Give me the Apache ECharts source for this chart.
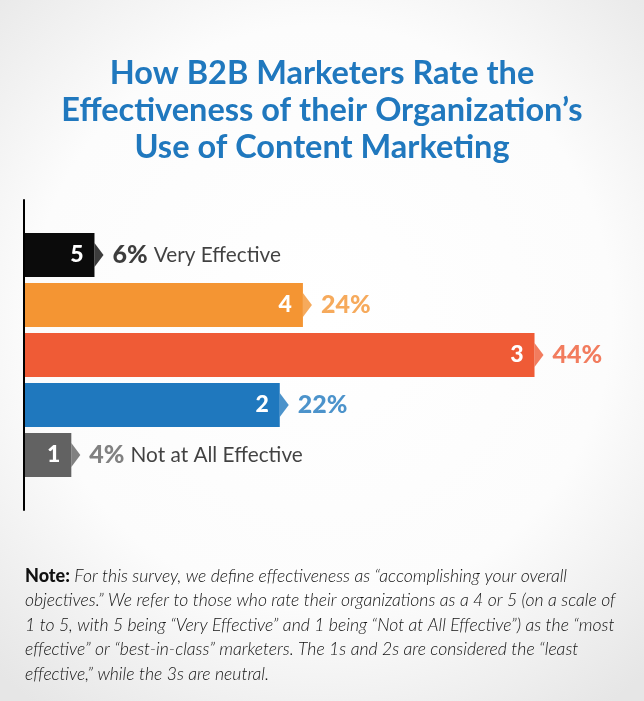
<!DOCTYPE html>
<html><head><meta charset="utf-8">
<script src="https://cdn.jsdelivr.net/npm/echarts@6/dist/echarts.min.js"></script>
<style>html,body{margin:0;padding:0;background:#fff;}#c{width:644px;height:701px;}</style>
</head><body><div id="c"></div>
<script>
// ---- data ----
const categories = ['5', '4', '3', '2', '1'];
const values = [6, 24, 44, 22, 4];
const descriptions = ['Very Effective', '', '', '', 'Not at All Effective'];
const titleLines = ['How B2B Marketers Rate the', 'Effectiveness of their Organization\u2019s', 'Use of Content Marketing'];
const noteLead = 'Note:';
const noteLines = [
  ' For this survey, we define effectiveness as \u201caccomplishing your overall',
  'objectives.\u201d We refer to those who rate their organizations as a 4 or 5 (on a scale of',
  '1 to 5, with 5 being \u201cVery Effective\u201d and 1 being \u201cNot at All Effective\u201d) as the \u201cmost',
  'effective\u201d or \u201cbest-in-class\u201d marketers. The 1s and 2s are considered the \u201cleast',
  'effective,\u201d while the 3s are neutral.'
];
// ---- styles ----
const barColors = ['#0b0b0b', '#F49533', '#EF5B36', '#1F78BE', '#626262'];
const pctColors = ['#0b0b0b', '#F49533', '#EF5B36', '#1F78BE', '#626262'];
const titleColor = '#2078BE';

const pctRich = {};
pctColors.forEach((c, i) => { pctRich['p' + i] = { color: c, fontSize: 25, fontWeight: 900, fontFamily: 'Lato' }; });
pctRich.d = { color: '#111', fontSize: 20.8, fontFamily: 'Lato', fontWeight: 'normal', padding: [0, 0, 0, 6] };

const noteText = '{b|' + noteLead + '}{i|' + noteLines[0] + '}\n' +
  noteLines.slice(1).map(l => '{i|' + l + '}').join('\n');

const chart = echarts.init(document.getElementById('c'), null, { renderer: 'canvas' });
chart.setOption({
  animation: false,
  backgroundColor: {
    type: 'radial', x: 0.5, y: 0.45, r: 0.75,
    colorStops: [{ offset: 0, color: '#ffffff' }, { offset: 0.6, color: '#fcfcfc' }, { offset: 1, color: '#e6e6e6' }]
  },
  title: [{
    text: titleLines.join('\n'),
    left: 'center', top: 50,
    textStyle: { color: titleColor, fontSize: 32.5, fontWeight: 'bold', fontFamily: 'Lato', lineHeight: 37 }
  }, {
    text: noteText,
    left: 20, top: 559,
    textStyle: {
      rich: {
        b: { fontFamily: 'Lato', fontWeight: 900, fontSize: 18, color: '#111', lineHeight: 24.5 },
        i: { fontFamily: 'Lato', fontStyle: 'italic', fontWeight: 300, fontSize: 17.6, color: '#111', lineHeight: 24.5 }
      }
    }
  }],
  grid: [
    { left: 25, right: 40, top: 230, bottom: 221 },
    { left: 24, width: 1, top: 200, bottom: 191 }
  ],
  xAxis: [
    { type: 'value', min: 0, max: 50, show: false },
    { type: 'value', gridIndex: 1, show: false }
  ],
  yAxis: [
    { type: 'category', data: categories, inverse: true, show: false },
    { type: 'value', gridIndex: 1, min: 0, max: 1,
      axisLine: { show: true, lineStyle: { color: '#000', width: 2 } },
      axisTick: { show: false }, axisLabel: { show: false }, splitLine: { show: false } }
  ],
  series: [{
    type: 'bar',
    barWidth: 44,
    silent: true,
    data: values.map((v, i) => ({ value: v, itemStyle: { color: barColors[i] } })),
    label: {
      show: true, position: 'insideRight', distance: 11,
      formatter: p => categories[p.dataIndex],
      color: '#fff', fontSize: 23, fontWeight: 900, fontFamily: 'Lato'
    }
  }, {
    type: 'scatter',
    silent: true,
    z: 3,
    symbol: 'path://M0,0L1,0.5L0,1Z',
    symbolSize: [9, 24],
    symbolOffset: [4.5, 0],
    data: values.map((v, i) => ({ value: [v, categories[i]], itemStyle: { color: barColors[i] } })),
    label: {
      show: true, position: 'right', distance: 9,
      formatter: p => '{p' + p.dataIndex + '|' + values[p.dataIndex] + '%}' + (descriptions[p.dataIndex] ? '{d|' + descriptions[p.dataIndex] + '}' : ''),
      rich: pctRich
    }
  }]
});
</script>
</body></html>
